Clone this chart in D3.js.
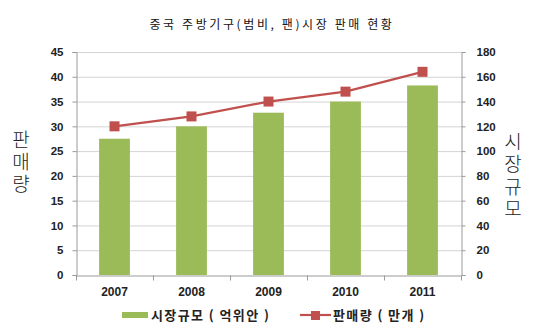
<!DOCTYPE html>
<html>
<head>
<meta charset="utf-8">
<script src="https://cdn.jsdelivr.net/npm/d3@7/dist/d3.min.js"></script>
<style>
  html, body { margin: 0; padding: 0; background: #fff; }
  svg { display: block; }
  .tick text { font-family: Arial, "Liberation Sans", sans-serif; font-weight: bold; font-size: 11.5px; fill: #222; }
</style>
</head>
<body>
<svg id="chart" width="548" height="333"></svg>
<script>
// Years on the category axis
const years = ["2007", "2008", "2009", "2010", "2011"];
// Market size (억위안) — bars, right axis
const marketSize = [110, 120, 131, 140, 153];
// Sales volume (만개) — line, left axis
const salesVolume = [30, 32, 35, 37, 41];
// Axis tick values
const leftTicks = [0, 5, 10, 15, 20, 25, 30, 35, 40, 45];
const rightTicks = [0, 20, 40, 60, 80, 100, 120, 140, 160, 180];

const title = "중국 주방기구(범비, 팬)시장 판매 현황";
const leftTitle = "판매량";
const rightTitle = "시장규모";
const legendBar = "시장규모 ( 억위안 )";
const legendLine = "판매량 ( 만개 )";

const barColor = "#9BBB59";
const lineColor = "#C0504D";
const gridColor = "#d4d4d4";
const axisColor = "#9a9a9a";

const svg = d3.select("#chart");
const plot = { left: 76, right: 461, top: 52, bottom: 275 };

const x = d3.scaleBand().domain(years).range([plot.left, plot.right]).padding(0);
const yL = d3.scaleLinear().domain([0, 45]).range([plot.bottom, plot.top]);
const yR = d3.scaleLinear().domain([0, 180]).range([plot.bottom, plot.top]);

// Horizontal gridlines
svg.append("g")
  .selectAll("line")
  .data(leftTicks.filter(t => t > 0))
  .join("line")
  .attr("x1", plot.left).attr("x2", plot.right)
  .attr("y1", d => yL(d) + 0.5).attr("y2", d => yL(d) + 0.5)
  .attr("stroke", gridColor).attr("stroke-width", 1);

// Left axis
const gL = svg.append("g")
  .attr("transform", `translate(${plot.left + 0.5},0)`)
  .call(d3.axisLeft(yL).tickValues(leftTicks).tickSize(4).tickPadding(9));
gL.selectAll(".domain, .tick line").attr("stroke", axisColor);

// Right axis
const gR = svg.append("g")
  .attr("transform", `translate(${plot.right + 0.5},0)`)
  .call(d3.axisRight(yR).tickValues(rightTicks).tickSize(4).tickPadding(11));
gR.selectAll(".domain, .tick line").attr("stroke", axisColor);
gR.selectAll(".tick text").attr("text-anchor", "start");

// Bars (market size on the right scale)
const step = x.step();
svg.append("g")
  .selectAll("rect")
  .data(years.map((y, i) => ({ year: y, v: marketSize[i] })))
  .join("rect")
  .attr("x", d => x(d.year) + step * 0.3)
  .attr("width", step * 0.4)
  .attr("y", d => yR(d.v))
  .attr("height", d => yR(0) - yR(d.v))
  .attr("fill", barColor);

// Bottom axis: labels centred, tick marks on category boundaries
const gB = svg.append("g")
  .attr("transform", `translate(0,${plot.bottom + 0.5})`)
  .call(d3.axisBottom(x).tickSize(0).tickPadding(12));
gB.select(".domain").attr("stroke", axisColor);
gB.selectAll(".tick text").style("font-size", "12px");
gB.append("g")
  .selectAll("line")
  .data(years.slice(1).concat(["__end"]))
  .join("line")
  .attr("x1", d => (d === "__end" ? plot.right : x(d)) + 0.5)
  .attr("x2", d => (d === "__end" ? plot.right : x(d)) + 0.5)
  .attr("y1", 0).attr("y2", 5)
  .attr("stroke", axisColor);
gB.append("line")
  .attr("x1", plot.left + 0.5).attr("x2", plot.left + 0.5)
  .attr("y1", 0).attr("y2", 5).attr("stroke", axisColor);

// Sales line (left scale)
const pts = years.map((y, i) => ({ year: y, v: salesVolume[i] }));
const line = d3.line().x(d => x(d.year) + step / 2).y(d => yL(d.v));
svg.append("path")
  .datum(pts)
  .attr("d", line)
  .attr("fill", "none")
  .attr("stroke", lineColor)
  .attr("stroke-width", 2.2);
svg.append("g")
  .selectAll("rect")
  .data(pts)
  .join("rect")
  .attr("x", d => x(d.year) + step / 2 - 5)
  .attr("y", d => yL(d.v) - 5)
  .attr("width", 10).attr("height", 10)
  .attr("fill", lineColor);

// Title
svg.append("text")
  .attr("x", 272).attr("y", 29)
  .attr("text-anchor", "middle")
  .style("font-family", "'Noto Sans CJK KR', sans-serif")
  .style("font-size", "12px")
  .style("letter-spacing", "2.6px")
  .attr("fill", "#111")
  .text(title);

// Vertical axis titles, written top to bottom
function stackedTitle(label, cx, yTop, spacing) {
  svg.append("text")
    .attr("x", cx).attr("y", yTop)
    .style("writing-mode", "vertical-rl")
    .style("text-orientation", "upright")
    .style("font-family", "'Noto Sans CJK KR', sans-serif")
    .style("font-size", "19px")
    .style("font-weight", "300")
    .style("letter-spacing", spacing + "px")
    .attr("fill", "#222")
    .text(label);
}
stackedTitle(leftTitle, 21, 130, 3);
stackedTitle(rightTitle, 513, 132, 3.5);

// Legend
const lg = svg.append("g").style("font-family", "'Noto Sans CJK KR', sans-serif")
  .style("font-size", "13px").style("font-weight", "bold")
  .style("letter-spacing", "1.4px").attr("fill", "#222");
lg.append("rect").attr("x", 122).attr("y", 312).attr("width", 26).attr("height", 6).attr("fill", barColor);
lg.append("text").attr("x", 151).attr("y", 320).text(legendBar);
lg.append("line").attr("x1", 300).attr("x2", 331).attr("y1", 315).attr("y2", 315)
  .attr("stroke", lineColor).attr("stroke-width", 2.2);
lg.append("rect").attr("x", 311).attr("y", 311).attr("width", 9).attr("height", 9).attr("fill", lineColor);
lg.append("text").attr("x", 333).attr("y", 320).text(legendLine);
</script>
</body>
</html>
